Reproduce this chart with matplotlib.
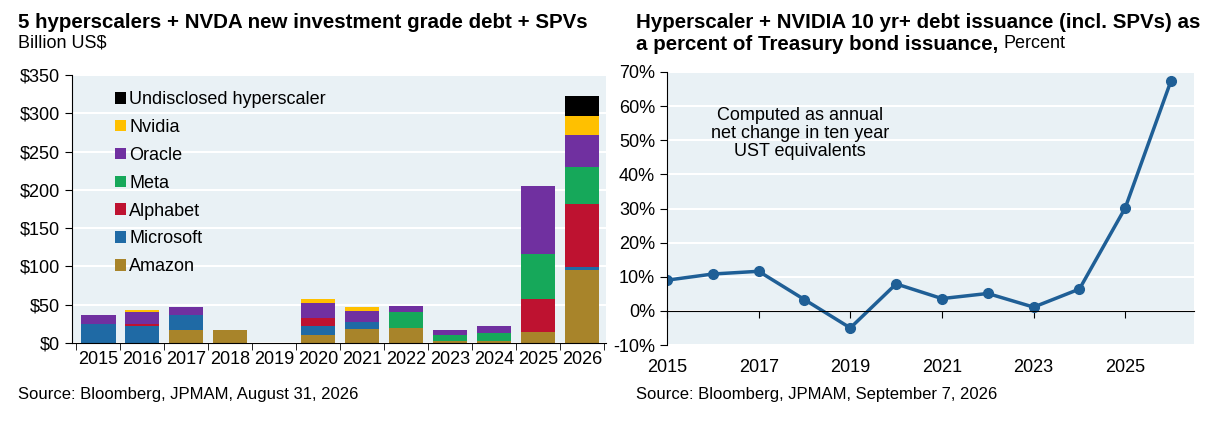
import matplotlib
matplotlib.use("Agg")
import matplotlib.pyplot as plt
import numpy as np
from matplotlib.ticker import FuncFormatter

plt.rcParams['font.family'] = ['Liberation Sans', 'DejaVu Sans']

years = [2015,2016,2017,2018,2019,2020,2021,2022,2023,2024,2025,2026]
amazon    = [0, 0, 17, 17, 0, 10, 18, 20, 2, 2, 14, 95]
microsoft = [25, 22, 19, 0, 0, 12, 9, 0, 0, 0, 0, 4]
alphabet  = [0, 3, 0, 0, 0, 10, 0, 0, 0, 0, 44, 83]
meta      = [0, 0, 0, 0, 0, 0, 0, 20, 9, 11, 58, 48]
oracle    = [12, 15, 11, 0, 0, 20, 15, 8, 6, 9, 89, 41]
nvidia    = [0, 3, 0, 0, 0, 5, 5, 0, 0, 0, 0, 25]
undisclosed = [0, 0, 0, 0, 0, 0, 0, 0, 0, 0, 0, 26]

series = [("Amazon", amazon, "#A8842A"), ("Microsoft", microsoft, "#1F6AA5"),
          ("Alphabet", alphabet, "#BE1230"), ("Meta", meta, "#16A85A"),
          ("Oracle", oracle, "#7030A0"), ("Nvidia", nvidia, "#FFC000"),
          ("Undisclosed hyperscaler", undisclosed, "#000000")]

line_years = years
line_pct = [9.0, 10.8, 11.6, 3.3, -5.0, 7.9, 3.6, 5.1, 1.1, 6.4, 30.2, 67.5]

bg = "#E9F1F5"
fig = plt.figure(figsize=(12.2, 4.32), dpi=100)
ax1 = fig.add_axes([72/1220, 1-343/432, 534/1220, 268/432])
ax2 = fig.add_axes([667/1220, 1-345/432, 527/1220, 273/432])

for ax in (ax1, ax2):
    ax.set_facecolor(bg)
    for s in ("top", "right"):
        ax.spines[s].set_visible(False)
    ax.tick_params(labelsize=13, length=5, direction='out')
    ax.grid(axis='y', color='white', linewidth=1.5)
    ax.set_axisbelow(True)

x = np.arange(len(years))
bottom = np.zeros(len(years))
handles = []
for name, vals, col in series:
    h = ax1.bar(x, vals, bottom=bottom, width=0.78, color=col, label=name)
    handles.append(h)
    bottom += np.array(vals)
ax1.set_xlim(-0.6, len(years)-0.45)
ax1.set_ylim(0, 350)
ax1.set_yticks(range(0, 351, 50))
ax1.yaxis.set_major_formatter(FuncFormatter(lambda v, p: f"${int(v)}"))
ax1.set_xticks(x)
ax1.set_xticklabels([str(y) for y in years])
ax1.set_xticks(np.arange(-0.5, len(years), 1), minor=True)
ax1.tick_params(axis='x', which='major', length=0, pad=6)
ax1.tick_params(axis='x', which='minor', length=5)
ax1.legend(handles[::-1], [s[0] for s in series][::-1], loc='upper left',
           bbox_to_anchor=(0.05, 1.0), frameon=False, fontsize=13,
           handlelength=0.6, handleheight=0.6, handletextpad=0.2, labelspacing=0.6)

ax2.plot(line_years, line_pct, color="#1F5F96", linewidth=2.5, marker='o', markersize=7)
ax2.set_xlim(2015, 2026.5)
ax2.set_ylim(-10, 70)
ax2.set_yticks(range(-10, 71, 10))
ax2.yaxis.set_major_formatter(FuncFormatter(lambda v, p: f"{int(v)}%"))
ax2.set_xticks(range(2015, 2026, 2))
ax2.spines['bottom'].set_position(('data', 0))
ax2.tick_params(axis='x', pad=30)
ax2.text(2017.9, 52, "Computed as annual\nnet change in ten year\nUST equivalents",
         ha='center', va='center', fontsize=13, linespacing=1.05)

fig.text(18/1220, 1-22/432, "5 hyperscalers + NVDA new investment grade debt + SPVs",
         fontsize=14.8, fontweight='bold', va='center')
fig.text(18/1220, 1-43/432, "Billion US$", fontsize=13, va='center')
fig.text(636/1220, 1-22/432, "Hyperscaler + NVIDIA 10 yr+ debt issuance (incl. SPVs) as",
         fontsize=14.8, fontweight='bold', va='center')
t = fig.text(636/1220, 1-44/432, "a percent of Treasury bond issuance,", fontsize=14.8,
             fontweight='bold', va='center')
fig.canvas.draw()
bb = t.get_window_extent()
fig.text((bb.x1 + 5)/1220, 1-44/432, "Percent", fontsize=13, va='center')
fig.text(18/1220, 1-394/432, "Source: Bloomberg, JPMAM, August 31, 2026", fontsize=12, va='center')
fig.text(636/1220, 1-394/432, "Source: Bloomberg, JPMAM, September 7, 2026", fontsize=12, va='center')

fig.savefig("out.png", dpi=100)
